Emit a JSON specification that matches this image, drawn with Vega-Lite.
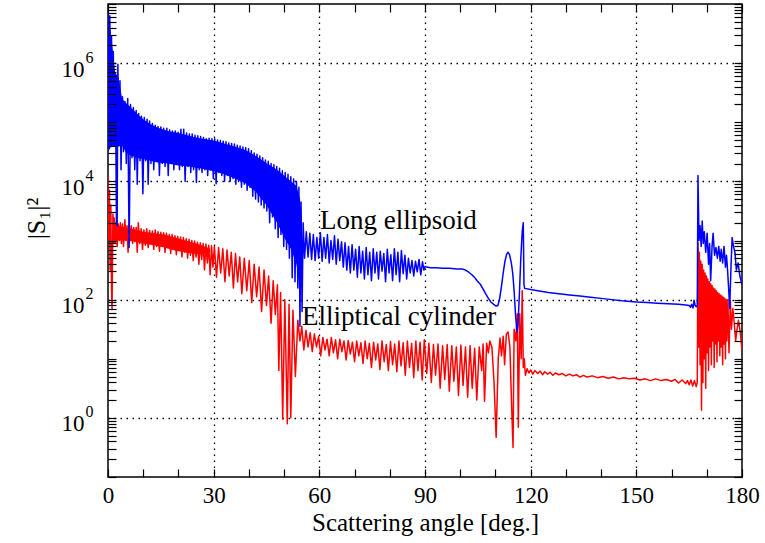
{
  "$schema": "https://vega.github.io/schema/vega-lite/v6.json",
  "autosize": {"type": "none"},
  "width": 634,
  "height": 473,
  "padding": {"left": 108, "top": 4, "right": 23, "bottom": 66},
  "background": "white",
  "config": {
    "view": {"stroke": "black", "strokeWidth": 1.5},
    "font": "Liberation Serif",
    "style": {
      "guide-label": {"font": "Liberation Serif", "fill": "black"},
      "guide-title": {"font": "Liberation Serif", "fill": "black", "fontWeight": "normal"}
    },
    "axis": {
      "labelFont": "Liberation Serif", "labelFontSize": 22, "labelColor": "black",
      "titleFont": "Liberation Serif", "titleFontSize": 24, "titleFontWeight": "normal", "titleColor": "black",
      "tickColor": "black", "tickWidth": 1.2, "domain": false
    }
  },
  "datasets": {
    "blue": [
      {"a":0,"v":8910000},{"a":0.3,"v":1000000},{"a":0.5,"v":6310000},{"a":0.8,"v":316000},{"a":1.0,"v":2820000},{"a":1.3,"v":100000},{"a":1.5,"v":1580000},{"a":1.8,"v":39800},{"a":2.1,"v":631000},{"a":2.4,"v":2000},{"a":2.6,"v":1780},{"a":2.8,"v":955000},{"a":3.1,"v":39800},{"a":3.4,"v":501000},{"a":3.7,"v":15800},{"a":4.1,"v":269000},{"a":4.4,"v":31600},{"a":4.8,"v":224000},{"a":5.2,"v":20000},{"a":5.6,"v":251000},{"a":6.0,"v":759},{"a":6.4,"v":200000},{"a":6.8,"v":25100},{"a":7.2,"v":178000},{"a":7.6,"v":15800},{"a":8.0,"v":158000},{"a":8.3,"v":8910},{"a":8.7,"v":141000},{"a":9.1,"v":22400},{"a":9.5,"v":126000},{"a":9.9,"v":6170},{"a":10.3,"v":120000},{"a":10.7,"v":22400},{"a":11.1,"v":112000},{"a":11.4,"v":8910},{"a":11.8,"v":105000},{"a":12.2,"v":20000},{"a":12.6,"v":95500},{"a":13.0,"v":15800},{"a":13.4,"v":89100},{"a":13.8,"v":22400},{"a":14.2,"v":85100},{"a":14.6,"v":12600},{"a":15.0,"v":83200},{"a":15.4,"v":20000},{"a":15.8,"v":79400},{"a":16.2,"v":17800},{"a":16.7,"v":79400},{"a":17.1,"v":12600},{"a":17.5,"v":74100},{"a":17.9,"v":20000},{"a":18.3,"v":70800},{"a":18.7,"v":15800},{"a":19.1,"v":70800},{"a":19.5,"v":20000},{"a":19.9,"v":67600},{"a":20.3,"v":15800},{"a":20.7,"v":75900},{"a":21.1,"v":17800},{"a":21.5,"v":75900},{"a":21.9,"v":10000},{"a":22.3,"v":66100},{"a":22.7,"v":17800},{"a":23.1,"v":63100},{"a":23.5,"v":14100},{"a":23.9,"v":63100},{"a":24.3,"v":15800},{"a":24.7,"v":60300},{"a":25.1,"v":9550},{"a":25.5,"v":58900},{"a":25.9,"v":15800},{"a":26.3,"v":57500},{"a":26.7,"v":14100},{"a":27.1,"v":55000},{"a":27.5,"v":15800},{"a":27.9,"v":52500},{"a":28.3,"v":12600},{"a":28.7,"v":53700},{"a":29.1,"v":15800},{"a":29.5,"v":52500},{"a":29.9,"v":11200},{"a":30.3,"v":52500},{"a":30.7,"v":9120},{"a":31.1,"v":50100},{"a":31.5,"v":14100},{"a":31.9,"v":49000},{"a":32.3,"v":12600},{"a":32.7,"v":47900},{"a":33.1,"v":10000},{"a":33.5,"v":46800},{"a":33.9,"v":12600},{"a":34.3,"v":44700},{"a":34.7,"v":10000},{"a":35.1,"v":43700},{"a":35.5,"v":11200},{"a":35.9,"v":42700},{"a":36.3,"v":8910},{"a":36.7,"v":40700},{"a":37.1,"v":10000},{"a":37.5,"v":39800},{"a":37.9,"v":7940},{"a":38.3,"v":38000},{"a":38.7,"v":8910},{"a":39.1,"v":37200},{"a":39.5,"v":7080},{"a":39.9,"v":35500},{"a":40.3,"v":7940},{"a":40.7,"v":33100},{"a":41.1,"v":5620},{"a":41.5,"v":30200},{"a":41.9,"v":5010},{"a":42.3,"v":28800},{"a":42.7,"v":4470},{"a":43.1,"v":26900},{"a":43.5,"v":3980},{"a":43.9,"v":25100},{"a":44.3,"v":3550},{"a":44.7,"v":22900},{"a":45.1,"v":3160},{"a":45.5,"v":21900},{"a":45.9,"v":2000},{"a":46.3,"v":20000},{"a":46.7,"v":2510},{"a":47.1,"v":19100},{"a":47.5,"v":1580},{"a":47.9,"v":17800},{"a":48.3,"v":1120},{"a":48.7,"v":16600},{"a":49.1,"v":1260},{"a":49.5,"v":15100},{"a":49.9,"v":794},{"a":50.3,"v":14100},{"a":50.7,"v":708},{"a":51.1,"v":13200},{"a":51.5,"v":501},{"a":51.9,"v":12000},{"a":52.3,"v":234},{"a":52.7,"v":11000},{"a":53.1,"v":200},{"a":53.5,"v":10000},{"a":53.9,"v":158},{"a":54.2,"v":7940},{"a":54.5,"v":35.5},{"a":54.8,"v":4470},{"a":55.1,"v":63.1},{"a":55.4,"v":2000},
      {"a":55.8,"v":501},{"a":56.3,"v":1410},{"a":56.8,"v":525},{"a":57.3,"v":1320},{"a":57.8,"v":479},{"a":58.3,"v":1260},{"a":58.8,"v":457},{"a":59.3,"v":1120},{"a":59.8,"v":501},{"a":60.3,"v":1350},{"a":60.8,"v":447},{"a":61.3,"v":1120},{"a":61.8,"v":501},{"a":62.3,"v":1260},{"a":62.8,"v":417},{"a":63.3,"v":1000},{"a":63.8,"v":479},{"a":64.3,"v":1200},{"a":64.8,"v":398},{"a":65.3,"v":1050},{"a":65.8,"v":457},{"a":66.3,"v":955},{"a":66.8,"v":355},{"a":67.3,"v":912},{"a":67.8,"v":316},{"a":68.3,"v":794},{"a":68.8,"v":282},{"a":69.3,"v":851},{"a":69.8,"v":316},{"a":70.3,"v":708},{"a":70.8,"v":240},{"a":71.3,"v":794},{"a":71.8,"v":282},{"a":72.3,"v":661},{"a":72.8,"v":224},{"a":73.3,"v":759},{"a":73.8,"v":263},{"a":74.3,"v":631},{"a":74.8,"v":209},{"a":75.3,"v":724},{"a":75.8,"v":282},{"a":76.3,"v":631},{"a":76.8,"v":224},{"a":77.3,"v":661},{"a":77.8,"v":302},{"a":78.3,"v":603},{"a":78.8,"v":200},{"a":79.3,"v":708},{"a":79.8,"v":282},{"a":80.3,"v":575},{"a":80.8,"v":209},{"a":81.3,"v":724},{"a":81.8,"v":263},{"a":82.3,"v":631},{"a":82.8,"v":200},{"a":83.3,"v":676},{"a":83.8,"v":275},{"a":84.3,"v":562},{"a":84.8,"v":224},{"a":85.3,"v":501},{"a":85.8,"v":282},{"a":86.3,"v":457},{"a":86.8,"v":251},{"a":87.3,"v":447},{"a":87.8,"v":295},{"a":88.3,"v":479},{"a":88.8,"v":263},{"a":89.3,"v":437},{"a":89.7,"v":316},{"a":90.0,"v":363},
      {"a":90.5,"v":355},{"a":91.5,"v":347},{"a":93,"v":347},{"a":95,"v":339},{"a":97,"v":339},{"a":99,"v":331},{"a":100.5,"v":331},{"a":101.5,"v":316},{"a":102.5,"v":288},{"a":103.3,"v":263},{"a":104,"v":240},{"a":104.8,"v":209},{"a":105.7,"v":182},{"a":106.5,"v":151},{"a":107.2,"v":126},{"a":108,"v":105},{"a":108.7,"v":91.2},{"a":109.5,"v":83.2},{"a":110.2,"v":77.6},{"a":110.7,"v":79.4},{"a":111.2,"v":105},{"a":111.7,"v":166},{"a":112.2,"v":282},{"a":112.7,"v":447},{"a":113.2,"v":589},{"a":113.6,"v":631},{"a":114.0,"v":575},{"a":114.5,"v":417},{"a":114.9,"v":282},{"a":115.3,"v":141},{"a":115.7,"v":56.2},{"a":116.1,"v":28.2},{"a":116.4,"v":35.5},{"a":116.8,"v":126},{"a":117.2,"v":501},{"a":117.6,"v":1410},{"a":117.9,"v":2000},{"a":118.1,"v":178},{"a":118.3,"v":155},
      {"a":120,"v":148},{"a":122,"v":141},{"a":125,"v":132},{"a":128,"v":126},{"a":131,"v":120},{"a":134,"v":115},{"a":137,"v":110},{"a":140,"v":105},{"a":143,"v":100},{"a":146,"v":95.5},{"a":150,"v":91.2},{"a":153,"v":89.1},{"a":156,"v":87.1},{"a":159,"v":85.1},{"a":162,"v":83.2},{"a":164,"v":81.3},{"a":165.0,"v":79.4},{"a":165.4,"v":74.1},{"a":165.7,"v":83.2},{"a":166.1,"v":72.4},{"a":166.4,"v":97.7},{"a":166.7,"v":79.4},{"a":167.0,"v":75.9},{"a":167.3,"v":79.4},
      {"a":167.5,"v":12600},{"a":167.8,"v":1000},{"a":168.1,"v":1780},{"a":168.4,"v":794},{"a":168.7,"v":2140},{"a":169.0,"v":891},{"a":169.3,"v":1410},{"a":169.7,"v":631},{"a":170.1,"v":1320},{"a":170.5,"v":398},{"a":170.8,"v":891},{"a":171.1,"v":209},{"a":171.5,"v":794},{"a":171.8,"v":1320},{"a":172.2,"v":562},{"a":172.6,"v":759},{"a":173.0,"v":501},{"a":173.4,"v":794},{"a":173.8,"v":447},{"a":174.1,"v":708},{"a":174.5,"v":417},{"a":174.9,"v":794},{"a":175.3,"v":355},{"a":175.6,"v":562},{"a":175.9,"v":316},{"a":176.2,"v":158},{"a":176.5,"v":70.8},{"a":176.9,"v":398},{"a":177.2,"v":1120},{"a":177.6,"v":794},{"a":178.0,"v":631},{"a":178.4,"v":316},{"a":178.9,"v":417},{"a":179.4,"v":251},{"a":180,"v":178}
    ],
    "red": [
      {"a":0,"v":12600},{"a":0.2,"v":1000},{"a":0.4,"v":7080},{"a":0.6,"v":316},{"a":0.8,"v":3980},{"a":1.0,"v":158},{"a":1.15,"v":70.8},{"a":1.4,"v":2820},{"a":1.6,"v":1260},{"a":1.8,"v":2400},{"a":2.0,"v":891},{"a":2.3,"v":2000},{"a":2.6,"v":794},{"a":2.9,"v":1910},{"a":3.2,"v":1000},{"a":3.5,"v":2000},{"a":3.8,"v":891},{"a":4.1,"v":1910},{"a":4.4,"v":794},{"a":4.8,"v":2240},{"a":5.1,"v":1000},{"a":5.4,"v":1780},{"a":5.7,"v":631},{"a":6.0,"v":1910},{"a":6.3,"v":1000},{"a":6.6,"v":1780},{"a":7.0,"v":891},{"a":7.3,"v":1660},{"a":7.6,"v":955},{"a":8.0,"v":1660},{"a":8.3,"v":631},{"a":8.6,"v":2000},{"a":9.0,"v":891},{"a":9.4,"v":1580},{"a":9.8,"v":708},{"a":10.2,"v":1510},{"a":10.6,"v":832},{"a":11.0,"v":1580},{"a":11.4,"v":759},{"a":11.8,"v":1480},{"a":12.2,"v":891},{"a":12.6,"v":1450},{"a":13.0,"v":708},{"a":13.4,"v":1510},{"a":13.8,"v":794},{"a":14.2,"v":1410},{"a":14.6,"v":661},{"a":15.0,"v":1380},{"a":15.4,"v":794},{"a":15.8,"v":1350},{"a":16.2,"v":631},{"a":16.6,"v":1320},{"a":17.0,"v":759},{"a":17.4,"v":1260},{"a":17.8,"v":603},{"a":18.2,"v":1260},{"a":18.6,"v":708},{"a":19.0,"v":1200},{"a":19.4,"v":575},{"a":19.8,"v":1170},{"a":20.2,"v":676},{"a":20.6,"v":1150},{"a":21.0,"v":525},{"a":21.4,"v":1120},{"a":21.8,"v":631},{"a":22.2,"v":1070},{"a":22.6,"v":501},{"a":23.0,"v":1050},{"a":23.4,"v":562},{"a":23.8,"v":1000},{"a":24.2,"v":457},{"a":24.6,"v":977},{"a":25.0,"v":525},{"a":25.4,"v":933},{"a":25.8,"v":398},{"a":26.2,"v":912},{"a":26.6,"v":479},{"a":27.0,"v":891},{"a":27.4,"v":316},{"a":27.8,"v":871},{"a":28.2,"v":417},{"a":28.6,"v":832},{"a":29.0,"v":263},{"a":29.4,"v":813},{"a":29.8,"v":355},{"a":30.2,"v":794},
      {"a":30.8,"v":240},{"a":31.4,"v":759},{"a":32.0,"v":282},{"a":32.6,"v":724},{"a":33.2,"v":200},{"a":33.8,"v":692},{"a":34.4,"v":251},{"a":35.0,"v":631},{"a":35.6,"v":158},{"a":36.2,"v":603},{"a":36.8,"v":200},{"a":37.4,"v":525},{"a":38.0,"v":126},{"a":38.7,"v":501},{"a":39.4,"v":141},{"a":40.1,"v":457},{"a":40.8,"v":89.1},{"a":41.5,"v":398},{"a":42.2,"v":112},{"a":42.9,"v":355},{"a":43.6,"v":63.1},{"a":44.3,"v":316},{"a":45.0,"v":79.4},{"a":45.6,"v":251},{"a":46.3,"v":39.8},{"a":46.9,"v":209},{"a":47.5,"v":56.2},{"a":48.1,"v":178},{"a":48.5,"v":6.31},{"a":49.0,"v":132},{"a":49.6,"v":0.955},{"a":50.2,"v":100},{"a":50.9,"v":0.794},{"a":51.4,"v":83.2},{"a":51.9,"v":1.0},{"a":52.5,"v":66.1},{"a":53.2,"v":5.01},{"a":53.9,"v":44.7},{"a":54.5,"v":20},{"a":55.0,"v":35.5},
      {"a":55.6,"v":14.1},{"a":56.2,"v":30.2},{"a":56.8,"v":15.8},{"a":57.4,"v":27.5},{"a":58.0,"v":13.2},{"a":58.6,"v":26.3},{"a":59.2,"v":15.8},{"a":59.8,"v":24.0},{"a":60.4,"v":11.2},{"a":61.0,"v":22.9},{"a":61.6,"v":14.1},{"a":62.2,"v":21.4},{"a":62.8,"v":11.2},{"a":63.4,"v":22.9},{"a":64.0,"v":12.6},{"a":64.6,"v":20.9},{"a":65.2,"v":10},{"a":65.8,"v":21.4},{"a":66.4,"v":13.2},{"a":67.0,"v":20},{"a":67.6,"v":9.55},{"a":68.2,"v":20.4},{"a":68.8,"v":12.0},{"a":69.4,"v":19.1},{"a":70.0,"v":8.91},{"a":70.6,"v":20},{"a":71.2,"v":11.2},{"a":71.8,"v":18.6},{"a":72.4,"v":8.32},{"a":73.0,"v":20},{"a":73.6,"v":10},{"a":74.2,"v":18.2},{"a":74.8,"v":7.08},{"a":75.4,"v":19.1},{"a":76.0,"v":9.55},{"a":76.6,"v":17.8},{"a":77.2,"v":6.61},{"a":77.8,"v":20},{"a":78.4,"v":8.91},{"a":79.0,"v":17.4},{"a":79.6,"v":6.31},{"a":80.2,"v":19.5},{"a":80.8,"v":7.94},{"a":81.4,"v":17.8},{"a":82.0,"v":6.03},{"a":82.6,"v":20},{"a":83.2,"v":7.59},{"a":83.8,"v":18.6},{"a":84.4,"v":5.25},{"a":85.0,"v":20},{"a":85.6,"v":7.08},{"a":86.2,"v":18.2},{"a":86.8,"v":4.79},{"a":87.4,"v":20},{"a":88.0,"v":6.31},{"a":88.6,"v":19.1},{"a":89.2,"v":4.37},{"a":89.8,"v":20.9},
      {"a":90.5,"v":5.62},{"a":91.1,"v":18.2},{"a":91.8,"v":3.98},{"a":92.4,"v":17.4},{"a":93.0,"v":5.25},{"a":93.7,"v":17.8},{"a":94.3,"v":3.16},{"a":95.0,"v":16.6},{"a":95.6,"v":4.47},{"a":96.3,"v":17.4},{"a":96.9,"v":2.82},{"a":97.6,"v":16.6},{"a":98.2,"v":4.17},{"a":98.9,"v":15.8},{"a":99.5,"v":2.40},{"a":100.2,"v":17.0},{"a":100.8,"v":3.55},{"a":101.5,"v":15.8},{"a":102.1,"v":2.24},{"a":102.8,"v":16.6},{"a":103.4,"v":3.16},{"a":104.1,"v":15.1},{"a":104.7,"v":2.0},{"a":105.4,"v":15.8},{"a":106.1,"v":6.31},{"a":106.5,"v":17.8},{"a":106.9,"v":1.91},{"a":107.5,"v":18.2},{"a":108.0,"v":12.6},{"a":108.4,"v":20},{"a":109.0,"v":15.8},{"a":109.6,"v":3.98},{"a":110.2,"v":0.468},{"a":110.8,"v":10},{"a":111.3,"v":22.4},{"a":111.7,"v":11.2},{"a":112.2,"v":24.0},{"a":112.6,"v":7.94},{"a":113.1,"v":26.3},{"a":113.6,"v":28.2},{"a":114.1,"v":15.8},{"a":114.6,"v":1.58},{"a":115.0,"v":0.316},{"a":115.3,"v":31.6},{"a":115.8,"v":20},{"a":116.2,"v":57.5},{"a":116.5,"v":0.692},{"a":116.9,"v":57.5},{"a":117.3,"v":10},{"a":117.6,"v":141},{"a":117.9,"v":7.08},{"a":118.2,"v":10},{"a":118.5,"v":5.25},
      {"a":119,"v":6.76},{"a":119.5,"v":5.75},{"a":120,"v":6.46},{"a":120.6,"v":5.5},{"a":121.2,"v":6.31},{"a":122,"v":5.62},{"a":122.7,"v":6.17},{"a":123.4,"v":5.37},{"a":124,"v":6.03},{"a":124.8,"v":5.5},{"a":125.5,"v":5.89},{"a":126.3,"v":5.25},{"a":127,"v":5.75},{"a":128,"v":5.37},{"a":129,"v":5.62},{"a":130,"v":5.13},{"a":131,"v":5.5},{"a":132,"v":5.13},{"a":133,"v":5.37},{"a":134,"v":4.9},{"a":135,"v":5.25},{"a":136,"v":4.9},{"a":137.5,"v":5.13},{"a":139,"v":4.79},{"a":140.5,"v":5.01},{"a":142,"v":4.68},{"a":143.5,"v":4.9},{"a":145,"v":4.57},{"a":146.5,"v":4.79},{"a":148,"v":4.57},{"a":149.5,"v":4.68},{"a":151,"v":4.37},{"a":152.5,"v":4.57},{"a":154,"v":4.27},{"a":155.5,"v":4.57},{"a":157,"v":4.27},{"a":158.5,"v":4.47},{"a":160,"v":4.17},{"a":161,"v":4.47},{"a":162,"v":3.89},{"a":163,"v":4.37},{"a":164,"v":3.8},{"a":164.5,"v":4.27},{"a":165,"v":3.63},{"a":165.5,"v":4.37},{"a":166,"v":3.47},{"a":166.5,"v":4.27},{"a":167,"v":3.39},{"a":167.3,"v":3.98},
      {"a":167.5,"v":912},{"a":167.7,"v":15.8},{"a":167.9,"v":631},{"a":168.1,"v":7.94},{"a":168.3,"v":447},{"a":168.5,"v":1.35},{"a":168.7,"v":398},{"a":168.9,"v":3.98},{"a":169.1,"v":316},{"a":169.3,"v":10},{"a":169.5,"v":282},{"a":169.7,"v":3.16},{"a":169.9,"v":251},{"a":170.1,"v":12.6},{"a":170.3,"v":224},{"a":170.5,"v":6.31},{"a":170.7,"v":200},{"a":170.9,"v":15.8},{"a":171.1,"v":186},{"a":171.3,"v":7.94},{"a":171.5,"v":174},{"a":171.7,"v":20},{"a":171.9,"v":158},{"a":172.1,"v":7.08},{"a":172.3,"v":151},{"a":172.5,"v":17.8},{"a":172.7,"v":141},{"a":172.9,"v":8.91},{"a":173.1,"v":132},{"a":173.3,"v":20},{"a":173.5,"v":126},{"a":173.7,"v":11.2},{"a":173.9,"v":120},{"a":174.1,"v":15.8},{"a":174.3,"v":115},{"a":174.5,"v":7.94},{"a":174.7,"v":110},{"a":174.9,"v":17.8},{"a":175.1,"v":105},{"a":175.3,"v":10},{"a":175.5,"v":100},{"a":175.7,"v":20},{"a":176.0,"v":100},{"a":176.3,"v":12.6},{"a":176.7,"v":95.5},{"a":177.0,"v":31.6},{"a":177.4,"v":70.8},{"a":177.8,"v":39.8},{"a":178.2,"v":20.4},{"a":178.6,"v":31.6},{"a":179.0,"v":44.7},{"a":179.5,"v":28.2},{"a":180,"v":13.8}
    ],
    "blueband": [
      {"a":0,"lo":31600,"hi":7940000},{"a":1,"lo":39800,"hi":2510000},{"a":2,"lo":39800,"hi":708000},{"a":3,"lo":39800,"hi":562000},{"a":4,"lo":39800,"hi":251000},{"a":5,"lo":31600,"hi":214000},{"a":6,"lo":28200,"hi":191000},{"a":8,"lo":25100,"hi":145000},{"a":10,"lo":24000,"hi":112000},{"a":12,"lo":22400,"hi":93300},{"a":14,"lo":20900,"hi":81300},{"a":17,"lo":20000,"hi":70800},{"a":20,"lo":18600,"hi":66100},{"a":23,"lo":17800,"hi":58900},{"a":26,"lo":16600,"hi":53700},{"a":30,"lo":14800,"hi":49000},{"a":33,"lo":13200,"hi":43700},{"a":36,"lo":11200,"hi":38900},{"a":39,"lo":9330,"hi":33900},{"a":42,"lo":6610,"hi":26900},{"a":45,"lo":3980,"hi":20400},{"a":48,"lo":2000,"hi":15800},{"a":50,"lo":1120,"hi":12600},{"a":52,"lo":708,"hi":10000},{"a":53.5,"lo":398,"hi":8320},{"a":54.5,"lo":158,"hi":5010},{"a":55,"lo":316,"hi":2510}
    ],
    "redband": [
      {"g":"r1","a":1.4,"lo":891,"hi":2000},{"g":"r1","a":3,"lo":1000,"hi":1780},{"g":"r1","a":5,"lo":1000,"hi":1660},{"g":"r1","a":8,"lo":955,"hi":1510},{"g":"r1","a":10,"lo":891,"hi":1410},{"g":"r1","a":13,"lo":832,"hi":1320},{"g":"r1","a":16,"lo":759,"hi":1260},{"g":"r1","a":19,"lo":676,"hi":1120},{"g":"r1","a":22,"lo":631,"hi":1000},{"g":"r1","a":25,"lo":589,"hi":891},{"g":"r1","a":27,"lo":589,"hi":813},{"g":"r1","a":29,"lo":631,"hi":724},
      {"g":"r2","a":167.5,"lo":31.6,"hi":794},{"g":"r2","a":168.5,"lo":31.6,"hi":355},{"g":"r2","a":170,"lo":28.2,"hi":200},{"g":"r2","a":172,"lo":25.1,"hi":141},{"g":"r2","a":174,"lo":22.4,"hi":107},{"g":"r2","a":175.8,"lo":22.4,"hi":91.2}
    ],
    "labels": [
      {"a":60.2,"v":1585,"t":"Long ellipsoid"},
      {"a":55.1,"v":36.7,"t":"Elliptical cylinder"}
    ]
  },
  "resolve": {"axis": {"x": "independent", "y": "independent"}},
  "layer": [
    {
      "data": {"name": "redband"},
      "mark": {"type": "area", "color": "#ff0000", "opacity": 1, "clip": true},
      "encoding": {
        "x": {"field": "a", "type": "quantitative", "scale": {"domain": [0, 180], "nice": false, "zero": false},
              "axis": {"orient": "bottom", "values": [30, 60, 90, 120, 150], "grid": true, "gridColor": "black", "gridDash": [1.5, 4.5], "gridWidth": 1.3, "gridOpacity": 1, "ticks": false, "labels": false, "title": null, "zindex": 0}},
        "y": {"field": "lo", "type": "quantitative", "scale": {"type": "log", "domain": [0.1, 10000000], "nice": false},
              "axis": {"orient": "left", "values": [1, 100, 10000, 1000000], "grid": true, "gridColor": "black", "gridDash": [1.5, 4.5], "gridWidth": 1.3, "gridOpacity": 1, "ticks": false, "labels": false, "title": null, "zindex": 0}},
        "y2": {"field": "hi"},
        "detail": {"field": "g"}
      }
    },
    {
      "data": {"name": "red"},
      "mark": {"type": "line", "color": "#ff0000", "strokeWidth": 1.5, "strokeJoin": "round", "clip": true},
      "encoding": {
        "x": {"field": "a", "type": "quantitative", "scale": {"domain": [0, 180], "nice": false, "zero": false},
              "axis": {"orient": "bottom", "values": [0,10,20,30,40,50,60,70,80,90,100,110,120,130,140,150,160,170,180],
                       "labelExpr": "datum.value % 30 === 0 ? datum.label : ''", "labelFlush": false, "labelOverlap": false,
                       "labelFont": "Liberation Serif", "labelFontSize": 23, "labelColor": "black",
                       "titleFont": "Liberation Serif", "titleFontSize": 25, "titleFontWeight": "normal", "titleColor": "black",
                       "tickSize": -8, "labelPadding": 15, "grid": false, "title": "Scattering angle [deg.]", "titlePadding": 3, "zindex": 1}},
        "y": {"field": "v", "type": "quantitative", "scale": {"type": "log", "domain": [0.1, 10000000], "nice": false},
              "axis": {"orient": "left",
                       "values": [0.1,0.2,0.3,0.4,0.5,0.6,0.7,0.8,0.9,1,2,3,4,5,6,7,8,9,10,20,30,40,50,60,70,80,90,100,200,300,400,500,600,700,800,900,1000,2000,3000,4000,5000,6000,7000,8000,9000,10000,20000,30000,40000,50000,60000,70000,80000,90000,100000,200000,300000,400000,500000,600000,700000,800000,900000,1000000,2000000,3000000,4000000,5000000,6000000,7000000,8000000,9000000,10000000],
                       "labelExpr": "(datum.value === 1 || datum.value === 100 || datum.value === 10000 || datum.value === 1000000) ? '10' : ''",
                       "labelFont": "Liberation Serif", "labelFontSize": 23, "labelColor": "black", "labelOffset": 6,
                       "titleFont": "Liberation Serif", "titleFontSize": 26, "titleFontWeight": "normal", "titleColor": "black",
                       "labelOverlap": false, "labelFlush": false, "tickSize": -8, "labelPadding": 32, "grid": false,
                       "title": "|S₁|²", "titlePadding": 12, "titleY": 214, "zindex": 1}}
      }
    },
    {
      "data": {"name": "blueband"},
      "mark": {"type": "area", "color": "#0000ff", "opacity": 1, "clip": true},
      "encoding": {
        "x": {"field": "a", "type": "quantitative", "scale": {"domain": [0, 180], "nice": false, "zero": false},
              "axis": {"orient": "top", "values": [0,10,20,30,40,50,60,70,80,90,100,110,120,130,140,150,160,170,180], "labels": false, "tickSize": -8, "grid": false, "title": null, "zindex": 1}},
        "y": {"field": "lo", "type": "quantitative", "scale": {"type": "log", "domain": [0.1, 10000000], "nice": false},
              "axis": {"orient": "right",
                       "values": [0.1,0.2,0.3,0.4,0.5,0.6,0.7,0.8,0.9,1,2,3,4,5,6,7,8,9,10,20,30,40,50,60,70,80,90,100,200,300,400,500,600,700,800,900,1000,2000,3000,4000,5000,6000,7000,8000,9000,10000,20000,30000,40000,50000,60000,70000,80000,90000,100000,200000,300000,400000,500000,600000,700000,800000,900000,1000000,2000000,3000000,4000000,5000000,6000000,7000000,8000000,9000000,10000000],
                       "labels": false, "tickSize": -8, "grid": false, "title": null, "zindex": 1}},
        "y2": {"field": "hi"}
      }
    },
    {
      "data": {"name": "blue"},
      "mark": {"type": "line", "color": "#0000ff", "strokeWidth": 1.5, "strokeJoin": "round", "clip": true},
      "encoding": {
        "x": {"field": "a", "type": "quantitative", "scale": {"domain": [0, 180], "nice": false, "zero": false}, "axis": null},
        "y": {"field": "v", "type": "quantitative", "scale": {"type": "log", "domain": [0.1, 10000000], "nice": false},
              "axis": {"orient": "left", "values": [1, 100, 10000, 1000000],
                       "labelExpr": "datum.value === 1 ? '0' : datum.value === 100 ? '2' : datum.value === 10000 ? '4' : '6'",
                       "labelFont": "Liberation Serif", "labelFontSize": 16, "labelColor": "black", "labelOffset": -6,
                       "labelOverlap": false, "labelFlush": false, "ticks": false, "labelPadding": 15, "grid": false, "title": null, "zindex": 1}}
      }
    },
    {
      "data": {"name": "labels"},
      "mark": {"type": "text", "align": "left", "baseline": "alphabetic", "font": "Liberation Serif", "fontSize": 27, "color": "black"},
      "encoding": {
        "x": {"field": "a", "type": "quantitative", "scale": {"domain": [0, 180], "nice": false, "zero": false}, "axis": null},
        "y": {"field": "v", "type": "quantitative", "scale": {"type": "log", "domain": [0.1, 10000000], "nice": false}, "axis": null},
        "text": {"field": "t"}
      }
    }
  ]
}
